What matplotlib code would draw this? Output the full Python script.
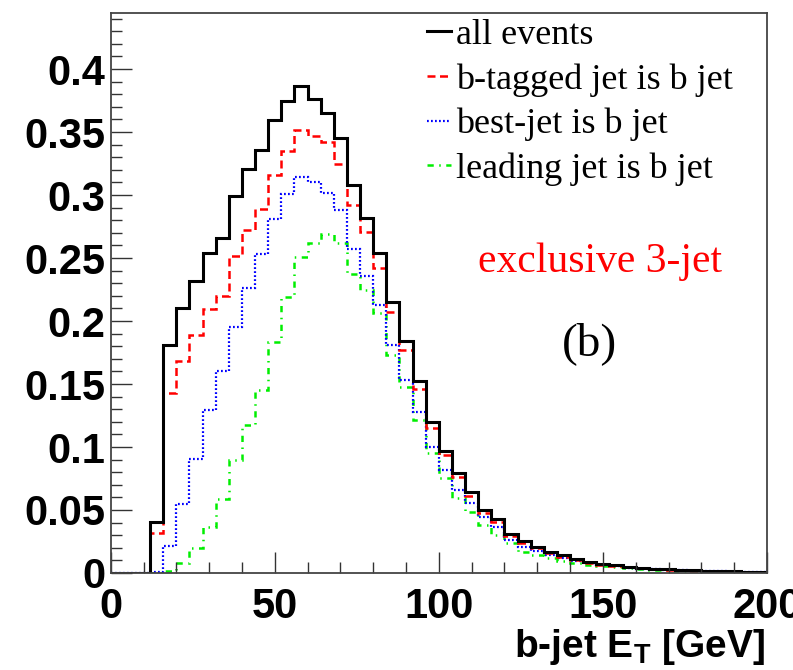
import numpy as np
import matplotlib
matplotlib.use("Agg")
import matplotlib.pyplot as plt
from matplotlib.lines import Line2D
from matplotlib.ticker import MultipleLocator

plt.rcParams["mathtext.fontset"] = "custom"
plt.rcParams["mathtext.rm"] = "Liberation Sans:bold"
plt.rcParams["mathtext.bf"] = "Liberation Sans:bold"

# 4 GeV bins from 0 to 200
edges = np.arange(0, 204, 4)

all_events = [0, 0, 0, 0.0407, 0.181, 0.210, 0.232, 0.254, 0.266, 0.299,
              0.321, 0.336, 0.3595, 0.375, 0.3865, 0.376, 0.365, 0.345, 0.308, 0.2815,
              0.2537, 0.2153, 0.1844, 0.1526, 0.1201, 0.0968, 0.0796, 0.0645, 0.050, 0.0426,
              0.0307, 0.0257, 0.0208, 0.0168, 0.0140, 0.0108, 0.0087, 0.0070, 0.0062, 0.0048,
              0.0040, 0.0033, 0.0028, 0.0024, 0.0020, 0.0017, 0.0015, 0.0012, 0.0010, 0.0009]
btag_is_b = [0, 0, 0, 0.0315, 0.143, 0.168, 0.189, 0.2095, 0.220, 0.2516,
             0.272, 0.289, 0.316, 0.335, 0.352, 0.347, 0.342, 0.325, 0.292, 0.271,
             0.242, 0.2074, 0.177, 0.1458, 0.1148, 0.0937, 0.0765, 0.0611, 0.0474, 0.0407,
             0.0294, 0.0240, 0.0195, 0.0158, 0.0130, 0.0102, 0.0082, 0.0066, 0.0058, 0.0045,
             0.0037, 0.0031, 0.0026, 0.0022, 0.0019, 0.0016, 0.0014, 0.0011, 0.0009, 0.0008]
best_is_b = [0, 0, 0, 0.0005, 0.0214, 0.0548, 0.0907, 0.129, 0.160, 0.1955,
             0.226, 0.253, 0.281, 0.301, 0.3145, 0.310, 0.302, 0.288, 0.257, 0.236,
             0.2127, 0.181, 0.153, 0.1275, 0.1003, 0.0817, 0.0659, 0.0553, 0.0447, 0.0368,
             0.0262, 0.0209, 0.0175, 0.0145, 0.0120, 0.0095, 0.0078, 0.0063, 0.0055, 0.0043,
             0.0035, 0.0029, 0.0025, 0.0021, 0.0018, 0.0015, 0.0013, 0.0011, 0.0009, 0.0008]
lead_is_b = [0, 0, 0, 0, 0.0015, 0.0077, 0.0196, 0.0368, 0.0585, 0.090,
             0.1175, 0.145, 0.183, 0.219, 0.251, 0.262, 0.269, 0.262, 0.237, 0.2246,
             0.206, 0.173, 0.148, 0.1214, 0.095, 0.0752, 0.0593, 0.0487, 0.038, 0.030,
             0.0235, 0.0169, 0.0140, 0.0115, 0.0095, 0.0078, 0.0064, 0.0052, 0.0045, 0.0036,
             0.0030, 0.0025, 0.0021, 0.0018, 0.0015, 0.0013, 0.0011, 0.0009, 0.0008, 0.0007]

labels = ["all events", "b-tagged jet is b jet", "best-jet is b jet", "leading jet is b jet"]

styles = [
    dict(color="black", lw=2.2, ls="-"),
    dict(color="red", lw=1.8, ls=(0, (3.2, 1.8))),
    dict(color="blue", lw=1.6, ls=(0, (0.8, 1.0))),
    dict(color="#00ee00", lw=1.8, ls=(0, (2.5, 2.2, 0.6, 2.2))),
]

fig = plt.figure(figsize=(7.93, 6.70), dpi=100)
ax = fig.add_axes([0.1396, 0.1448, 0.8276, 0.8358])

series = [all_events, btag_is_b, best_is_b, lead_is_b]
# draw the black one last so it sits on top
for vals, st in list(zip(series, styles))[::-1]:
    ax.stairs(vals, edges, baseline=None, **st)

ax.set_xlim(0, 200)
ax.set_ylim(0, 0.4445)

ax.xaxis.set_major_locator(MultipleLocator(50))
ax.xaxis.set_minor_locator(MultipleLocator(10))
ax.yaxis.set_major_locator(MultipleLocator(0.05))
ax.yaxis.set_minor_locator(MultipleLocator(0.01))
ax.tick_params(which="both", direction="in", top=False, right=False, width=1.0, color="#333333")
ax.tick_params(which="major", length=15)
ax.tick_params(which="minor", length=8)
ax.tick_params(axis="x", pad=10)
ax.tick_params(axis="y", pad=4)

ax.set_yticks([0, 0.05, 0.1, 0.15, 0.2, 0.25, 0.3, 0.35, 0.4])
ax.set_yticklabels(["0", "0.05", "0.1", "0.15", "0.2", "0.25", "0.3", "0.35", "0.4"])
for lab in ax.get_xticklabels() + ax.get_yticklabels():
    lab.set_fontfamily("Liberation Sans")
    lab.set_fontweight("bold")
    lab.set_fontsize(30)

for sp in ax.spines.values():
    sp.set_linewidth(1.3)
    sp.set_color("#444444")

fig.text(765 / 793, 13 / 670, r"b-jet E$_{\rm T}$ [GeV]", ha="right", va="baseline",
         fontfamily="Liberation Sans", fontweight="bold", fontsize=28)

handles = [Line2D([0], [0], **st) for st in styles]
ax.legend(handles, labels, loc="upper left", bbox_to_anchor=(0.482, 0.99),
          frameon=False, borderpad=0, borderaxespad=0, handlelength=0.65,
          handletextpad=0.15, labelspacing=0.31,
          prop=dict(family="Liberation Serif", size=26))

ax.text(112, 0.239, "exclusive 3-jet", color="red", fontfamily="Liberation Serif",
        fontsize=30, ha="left", va="baseline")
ax.text(137.5, 0.173, "(b)", color="black", fontfamily="Liberation Serif",
        fontsize=34, ha="left", va="baseline")

fig.savefig("out.png", dpi=100)
